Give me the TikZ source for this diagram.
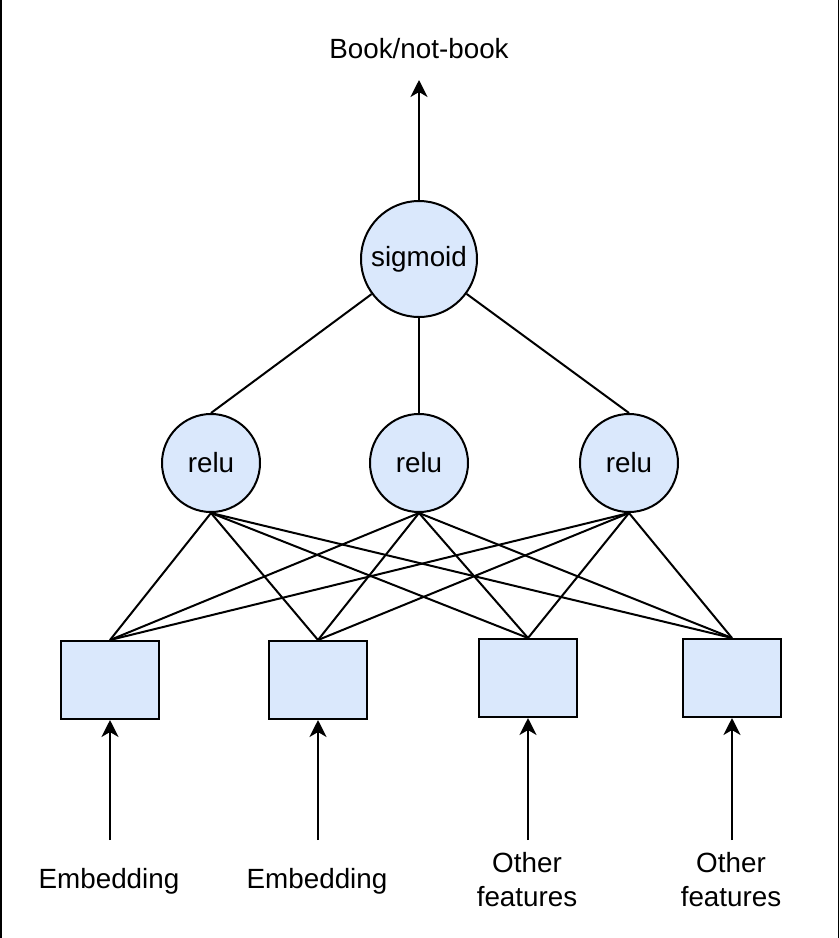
\documentclass[tikz,border=0pt]{standalone}
\usepackage{fontspec}
\setmainfont{Liberation Sans}
\usetikzlibrary{arrows.meta}
\definecolor{nnblue}{HTML}{DAE8FC}
\begin{document}
\begin{tikzpicture}[x=1pt,y=-1pt,
  every node/.style={font=\fontsize{27.8}{34}\selectfont},
  unit/.style={circle,draw,fill=nnblue,line width=2pt,inner sep=0pt},
  feat/.style={rectangle,draw,fill=nnblue,line width=2pt,minimum width=98pt,minimum height=78pt,inner sep=0pt},
  conn/.style={line width=2pt},
  arr/.style={line width=2pt,-{Stealth[length=17pt,width=17pt,inset=5pt]}},
  lbl/.style={align=center,inner sep=0pt},
  frame/.style={line width=1.5pt}]
\useasboundingbox (0,0) rectangle (840,938);
\draw[frame] (0.75,0) -- (0.75,938);
\draw[frame] (838.5,0) -- (838.5,938);
% output
\node[lbl] (out) at (419,49) {Book/not-book};
\coordinate (top) at (419,80);
\node[unit,minimum size=116pt] (sig) at (419,259) {\raisebox{-2pt}{sigmoid}};
% hidden
\node[unit,minimum size=98pt] (r1) at (211,463) {relu};
\node[unit,minimum size=98pt] (r2) at (419,463) {relu};
\node[unit,minimum size=98pt] (r3) at (629,463) {relu};
% features
\node[feat] (f1) at (110,680) {};
\node[feat] (f2) at (318,680) {};
\node[feat] (f3) at (528,678) {};
\node[feat] (f4) at (732,678) {};
% inputs
\coordinate (i1) at (110,840);
\coordinate (i2) at (318,840);
\coordinate (i3) at (528,840);
\coordinate (i4) at (732,840);
\node[lbl] (l1) at (109,881) {Embedding};
\node[lbl] (l2) at (317,881) {Embedding};
\node[lbl] (l3) at (527,880) {Other\\features};
\node[lbl] (l4) at (731,880) {Other\\features};
% connectors
\draw[arr] (sig) -- (top);
\draw[conn] (sig) -- (r1.north);
\draw[conn] (sig) -- (r2.north);
\draw[conn] (sig) -- (r3.north);
\foreach \r in {r1,r2,r3}{
  \foreach \f in {f1,f2,f3,f4}{
    \draw[conn] (\r.south) -- (\f.north);
  }
}
\draw[arr] (i1) -- (f1.south);
\draw[arr] (i2) -- (f2.south);
\draw[arr] (i3) -- (f3.south);
\draw[arr] (i4) -- (f4.south);
\end{tikzpicture}
\end{document}
